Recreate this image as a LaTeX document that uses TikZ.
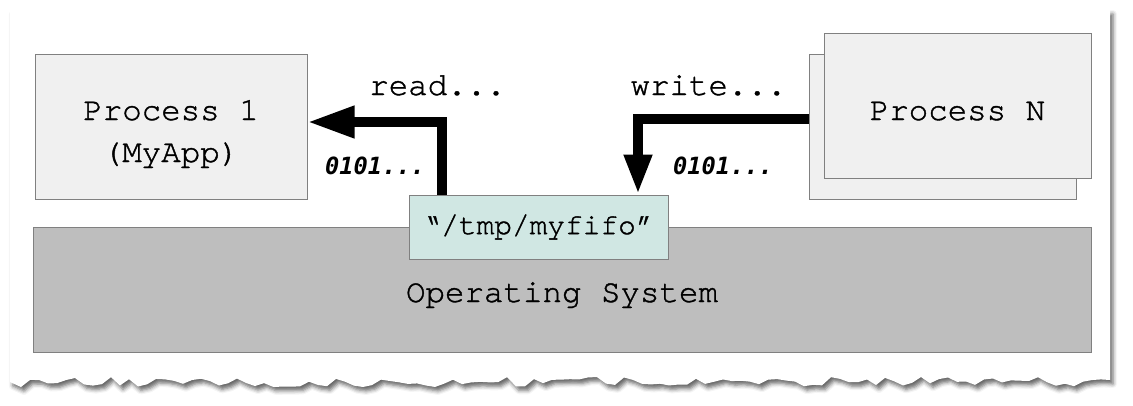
\documentclass[tikz,border=0pt]{standalone}
\usepackage{fontspec}
\setmonofont{TeX Gyre Cursor}[Ligatures=NoCommon, FakeBold=1.2]
\newfontfamily\bitsfont{DejaVu Sans Mono}
\usetikzlibrary{arrows.meta,shadows.blur}
\definecolor{boxfill}{HTML}{F0F0F0}
\definecolor{boxline}{HTML}{808080}
\definecolor{osfill}{HTML}{BEBEBE}
\definecolor{fifofill}{HTML}{D0E7E3}
\tikzset{
  procbox/.style={draw=boxline, line width=1pt, fill=boxfill, minimum width=#1, minimum height=145pt, inner sep=0pt},
  osbox/.style={draw=boxline, line width=1pt, fill=osfill, minimum width=1058pt, minimum height=125pt, inner sep=0pt},
  fifobox/.style={draw=boxline, line width=1pt, fill=fifofill, minimum width=259pt, minimum height=64pt, inner sep=0pt,
    font=\ttfamily\fontsize{29.5}{36}\selectfont},
  oplabel/.style={anchor=base, inner sep=0pt, font=\ttfamily\fontsize{32.5}{40}\selectfont},
  bitslabel/.style={anchor=base, inner sep=0pt, font=\bitsfont\bfseries\itshape\fontsize{23.7}{28}\selectfont},
  flow/.style={line width=10pt, line join=miter, draw=black},
}
\begin{document}
\begin{tikzpicture}[x=1pt,y=-1pt]
\useasboundingbox (0,0) rectangle (1133,405);
\pgfmathsetseed{23}
% paper with torn bottom edge
\fill[white, blur shadow={shadow xshift=3pt, shadow yshift=-4pt, shadow blur radius=4pt, shadow opacity=60}]
  (10,10) -- (1110,10) -- (1110,380)
  \foreach \i in {1,...,121} { -- ({1110-\i*9}, {382+5*rand})} -- (10,382) -- cycle;
% boxes
\node[osbox] (os) at (562,289.5) {};
\node[oplabel] (ost) at (562,302) {Operating System};
\node[fifobox] (fifo) at (538.5,227) {“/tmp/myfifo”};
\node[procbox=272pt] (p1) at (171,126.5) {};
\node[procbox=267pt] (pnb) at (942.5,126.5) {};
\node[procbox=267pt] (pn) at (957.5,105.5) {};
\node[oplabel] (p1t) at (171,120) {Process 1};
\node[oplabel] (p1u) at (171,162) {(MyApp)};
\node[oplabel] (pnt) at (957.5,120) {Process N};
% connectors
\draw[flow, -{Triangle[length=47pt,width=30pt]}]
  ([xshift=-96.5pt]fifo.north) |- ([yshift=4.5pt]p1.east);
\draw[flow, -{Triangle[length=40pt,width=26pt]}]
  ([yshift=8pt]pnb.west) -| ([xshift=99.5pt]fifo.north);
% labels
\node[oplabel] (rd) at (437.5,95) {read...};
\node[oplabel] (wr) at (708.5,95) {write...};
\node[bitslabel] (b1) at (375,174) {0101...};
\node[bitslabel] (b2) at (723,174) {0101...};
\end{tikzpicture}
\end{document}
